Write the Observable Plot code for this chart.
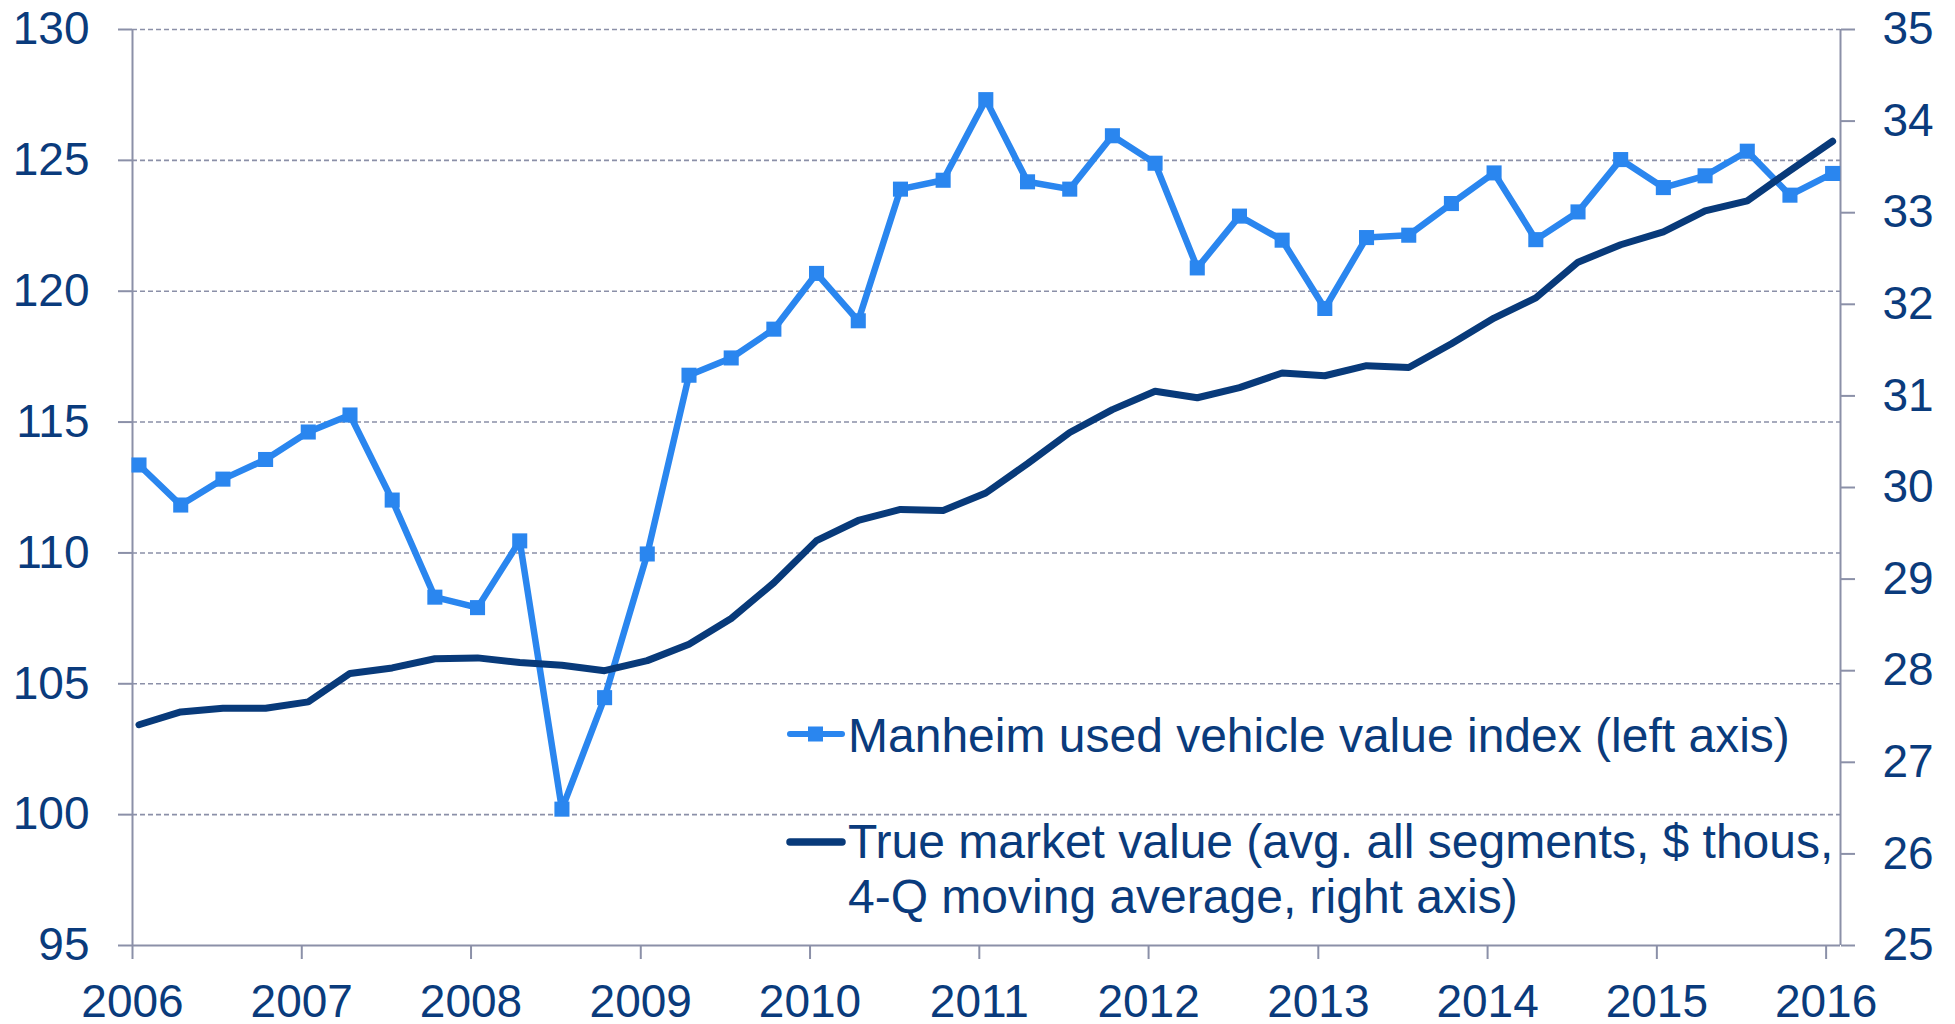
<!DOCTYPE html>
<html><head><meta charset="utf-8">
<script src="https://cdn.jsdelivr.net/npm/d3@7"></script>
<script src="https://cdn.jsdelivr.net/npm/@observablehq/plot@0.6"></script>
<style>
html,body{margin:0;padding:0;background:#fff;}
#wrap{position:relative;width:1955px;height:1024px;font-family:"Liberation Sans",Arial,sans-serif;}
.lg{position:absolute;color:#0a3b7c;font-size:48px;line-height:55px;white-space:nowrap;}
.sw{position:absolute;}
</style>
</head><body>
<div id="wrap"></div>
<script>
const quarters = [
  "2006-01-15","2006-04-15","2006-07-15","2006-10-15",
  "2007-01-15","2007-04-15","2007-07-15","2007-10-15",
  "2008-01-15","2008-04-15","2008-07-15","2008-10-15",
  "2009-01-15","2009-04-15","2009-07-15","2009-10-15",
  "2010-01-15","2010-04-15","2010-07-15","2010-10-15",
  "2011-01-15","2011-04-15","2011-07-15","2011-10-15",
  "2012-01-15","2012-04-15","2012-07-15","2012-10-15",
  "2013-01-15","2013-04-15","2013-07-15","2013-10-15",
  "2014-01-15","2014-04-15","2014-07-15","2014-10-15",
  "2015-01-15","2015-04-15","2015-07-15","2015-10-15",
  "2016-01-15"
];
const manheim = [
  113.36,111.83,112.82,113.57,
  114.62,115.27,112.02,108.31,
  107.91,110.46,100.21,104.47,
  109.96,116.79,117.45,118.55,
  120.68,118.87,123.90,124.24,
  127.32,124.18,123.90,125.94,
  124.89,120.89,122.87,121.95,
  119.34,122.05,122.14,123.35,
  124.52,121.97,123.03,125.03,
  123.96,124.41,125.35,123.67,
  124.50
];
const trueMarketValue = [
  27.41,27.55,27.59,27.59,
  27.66,27.97,28.03,28.13,
  28.14,28.09,28.06,28.00,
  28.11,28.29,28.57,28.96,
  29.42,29.64,29.76,29.75,
  29.94,30.26,30.60,30.85,
  31.05,30.98,31.09,31.25,
  31.22,31.33,31.31,31.57,
  31.85,32.07,32.46,32.65,
  32.79,33.02,33.13,33.46,
  33.78
];
const leftTicks = [95,100,105,110,115,120,125,130];
const rightTicks = [25,26,27,28,29,30,31,32,33,34,35];
const yearTicks = ["2006","2007","2008","2009","2010","2011","2012","2013","2014","2015","2016"];
const legendLabels = ["Manheim used vehicle value index (left axis)",
  "True market value (avg. all segments, $ thous,", "4-Q moving average, right axis)"];

const leftDomain = [95,130];
const rightDomain = [25,35];
const toLeft = v => leftDomain[0] + (v - rightDomain[0]) * (leftDomain[1]-leftDomain[0]) / (rightDomain[1]-rightDomain[0]);
const fromLeft = v => rightDomain[0] + (v - leftDomain[0]) * (rightDomain[1]-rightDomain[0]) / (leftDomain[1]-leftDomain[0]);

const data = quarters.map((q,i) => ({date: new Date(q), manheim: manheim[i], tmv: trueMarketValue[i]}));
const xDomain = [new Date("2006-01-01"), new Date("2016-02-01")];

const AXIS = "#8b90a8";
const TEXT = "#0a3b7c";
const LIGHT = "#2a86ef";
const DARK = "#083a7a";

const chart = Plot.plot({
  width: 1955, height: 1024,
  marginLeft: 132, marginRight: 115, marginTop: 29, marginBottom: 79,
  style: {fontFamily: '"Liberation Sans", Arial, sans-serif', background: "#fff"},
  x: {type: "utc", domain: xDomain},
  y: {domain: leftDomain},
  marks: [
    Plot.gridY(leftTicks.filter(d => d > leftDomain[0]), {stroke: AXIS, strokeOpacity: 1, strokeWidth: 1.6, strokeDasharray: "5,3"}),
    Plot.ruleX([xDomain[0], xDomain[1]], {stroke: AXIS, strokeWidth: 2}),
    Plot.ruleY([leftDomain[0]], {stroke: AXIS, strokeWidth: 2}),
    Plot.axisY({ticks: leftTicks, tickSize: 14, tickPadding: 29, fontSize: 46, fill: TEXT, stroke: AXIS, strokeWidth: 2, strokeOpacity: 1, label: null}),
    Plot.axisY({anchor: "right", ticks: rightTicks.map(toLeft), tickFormat: d => String(Math.round(fromLeft(d))), tickSize: 14, tickPadding: 28, fontSize: 46, fill: TEXT, stroke: AXIS, strokeWidth: 2, strokeOpacity: 1, label: null}),
    Plot.axisX({ticks: yearTicks.map(y => new Date(y + "-01-01")), tickFormat: d => d3.utcFormat("%Y")(d), tickSize: 14, tickPadding: 25, fontSize: 46, fill: TEXT, stroke: AXIS, strokeWidth: 2, strokeOpacity: 1, label: null}),
    Plot.line(data, {x: "date", y: "manheim", stroke: LIGHT, strokeWidth: 6.5, strokeLinejoin: "round"}),
    Plot.dot(data, {x: "date", y: "manheim", symbol: "square", r: 8.5, fill: LIGHT, stroke: null}),
    Plot.line(data, {x: "date", y: d => toLeft(d.tmv), stroke: DARK, strokeWidth: 7, strokeLinejoin: "round", strokeLinecap: "round"})
  ]
});
const wrap = document.getElementById("wrap");
wrap.appendChild(chart);

// legend (inside the plot area)
function add(html){ const t = document.createElement("template"); t.innerHTML = html.trim(); wrap.appendChild(t.content.firstChild); }
add(`<svg class="sw" style="left:785px;top:708px" width="62" height="55"><line x1="5" y1="26" x2="57" y2="26" stroke="${LIGHT}" stroke-width="6" stroke-linecap="round"/><rect x="23" y="18.5" width="15" height="15" fill="${LIGHT}"/></svg>`);
add(`<div class="lg" style="left:848px;top:708px">${legendLabels[0]}</div>`);
add(`<svg class="sw" style="left:785px;top:814px" width="62" height="55"><line x1="5" y1="28" x2="57" y2="28" stroke="${DARK}" stroke-width="7.5" stroke-linecap="round"/></svg>`);
add(`<div class="lg" style="left:848px;top:814px">${legendLabels[1]}<br>${legendLabels[2]}</div>`);
</script>
</body></html>
